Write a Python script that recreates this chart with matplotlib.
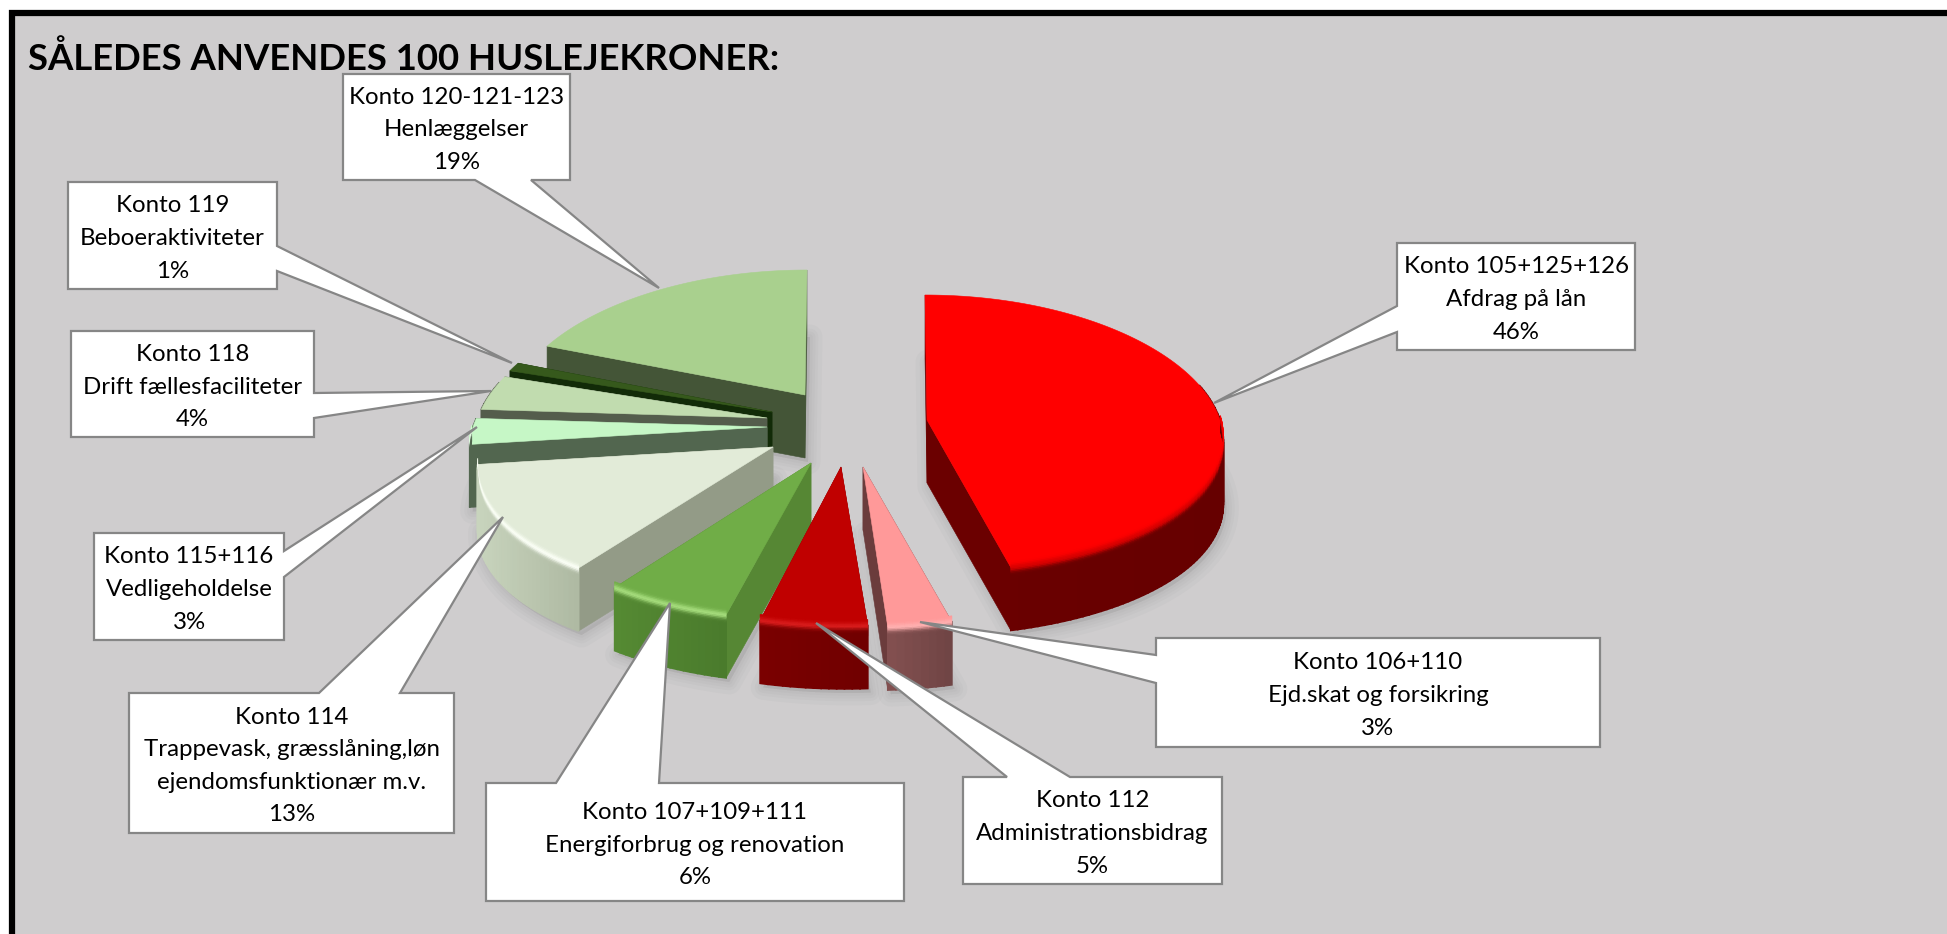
import numpy as np
import matplotlib
matplotlib.use("Agg")
import matplotlib.pyplot as plt
from matplotlib.patches import Polygon, Rectangle
from matplotlib.colors import to_rgb

# ===============================
# DATA
# ===============================
TITLE = "SÅLEDES ANVENDES 100 HUSLEJEKRONER:"

# clockwise from 12 o'clock
accounts = ["Konto 105+125+126", "Konto 106+110", "Konto 112", "Konto 107+109+111", "Konto 114",
            "Konto 115+116", "Konto 118", "Konto 119", "Konto 120-121-123"]
names = ["Afdrag på lån", "Ejd.skat og forsikring", "Administrationsbidrag", "Energiforbrug og renovation",
         "Trappevask, græsslåning,løn\nejendomsfunktionær m.v.", "Vedligeholdelse",
         "Drift fællesfaciliteter", "Beboeraktiviteter", "Henlæggelser"]
percent = [46, 3, 5, 6, 13, 3, 4, 1, 19]

# ===============================
# LAYOUT / STYLE
# ===============================
BG = "#cfcdce"
EDGE = "#868686"
A, B, KX, KY, DEPTH = 295, 137.5, 0.15, 0.10, 63

# exploded position of each slice tip, in pixels
apex = [(927, 420), (863, 467), (841, 467), (811, 463), (773, 447),
        (767, 427), (767, 418), (772, 412), (805, 395)]
# perspective correction per slice: vertical stretch, sideways lean of the outer edge
grow = [1.0, 1.05, 1.04, 1.03, 1.0, 1.0, 1.0, 1.0, 1.0]
lean = [-2, 3, 5, 1, 3, 1, 6, 6, 2]

top_col = ["#ff0000", "#ff9999", "#c00000", "#70ad47", "#e2ebd8",
           "#c6f7c6", "#c1dcaf", "#36591c", "#a9d08e"]
wall_col = ["#6b0000", "#6b3c3c", "#7a0000", "#568734", "#939b87",
            "#52664f", "#545d4c", "#122b08", "#445537"]
rim_l = ["#6b0000", "#835050", "#7a0000", "#558a33", "#c8d4bd",
         "#52664f", "#545d4c", "#122b08", "#445537"]
rim_r = ["#660000", "#6f4444", "#700000", "#4a7a2c", "#aeb9a2",
         "#52664f", "#545d4c", "#122b08", "#445537"]
shine = ["#d80000", "#ffb0b0", "#d81c1c", "#a5dc7c", "#fbfff6",
         "#e6ffe6", "#e0f5d0", "#36591c", "#a9d08e"]

# box x0, y0, x1, y1, pointer base a, pointer base b, side of the box, pointer tip
boxes = [
    (1397, 243, 1635, 350, 306, 332, "left", (1214, 403)),
    (1156, 638, 1600, 747, 655, 683, "left", (920, 622)),
    (963, 777, 1222, 884, 1007, 1070, "top", (816, 623)),
    (486, 783, 904, 901, 556, 659, "top", (670, 603)),
    (129, 693, 454, 833, 319, 400, "top", (503, 517)),
    (94, 533, 284, 640, 551, 577, "right", (477, 427)),
    (71, 331, 314, 437, 393, 418, "right", (491, 391)),
    (68, 182, 277, 289, 246, 271, "right", (512, 363)),
    (343, 74, 570, 180, 475, 531, "bottom", (659, 288)),
]

plt.rcParams["font.family"] = ["Lato", "DejaVu Sans"]


def project(i, theta):
    u, v = np.sin(theta), np.cos(theta)
    return np.column_stack([apex[i][0] + lean[i] + A * u / (1 + KX * v),
                            apex[i][1] - grow[i] * B * v / (1 + KY * v)])


def mix(c1, c2, t):
    c1, c2 = np.array(to_rgb(c1)), np.array(to_rgb(c2))
    return tuple(c1 + (c2 - c1) * t)


def callout(b):
    x0, y0, x1, y1, p, q, side, tip = b
    if side == "left":
        return [(x0, y0), (x1, y0), (x1, y1), (x0, y1), (x0, q), tip, (x0, p)]
    if side == "right":
        return [(x0, y0), (x1, y0), (x1, p), tip, (x1, q), (x1, y1), (x0, y1)]
    if side == "top":
        return [(x0, y0), (p, y0), tip, (q, y0), (x1, y0), (x1, y1), (x0, y1)]
    return [(x0, y0), (x1, y0), (x1, y1), (q, y1), tip, (p, y1), (x0, y1)]


fig = plt.figure(figsize=(19.47, 9.34), dpi=100, facecolor="white")
ax = fig.add_axes([0, 0, 1, 1])
ax.set_xlim(0, 1947)
ax.set_ylim(934, 0)
ax.axis("off")

# frame
ax.add_patch(Rectangle((12, 12.5), 1960, 950, facecolor=BG, edgecolor="black", lw=4.5, zorder=0))

# ===============================
# SLICES
# ===============================
edges = np.cumsum([0] + percent) / sum(percent) * 2 * np.pi
draw_order = [8, 7, 6, 5, 4, 3, 2, 1, 0]
z = 3

# soft shadows, under everything
for i in draw_order:
    th = np.linspace(edges[i], edges[i + 1], 60)
    arc = project(i, th)
    pts = np.vstack([[apex[i]], arc])
    low = pts + [3, DEPTH + 4]
    for lw in (18, 12, 8, 4):
        ax.add_patch(Polygon(low, closed=True, facecolor="#808080", edgecolor="#808080",
                             alpha=0.05, lw=lw, joinstyle="round", zorder=1))

for i in draw_order:
    n = max(int(percent[i] * 3), 8)
    th = np.linspace(edges[i], edges[i + 1], n)
    arc = project(i, th)
    tip = np.array(apex[i], dtype=float)
    down = np.array([0, DEPTH])

    # the two cut faces
    for corner in (arc[0], arc[-1]):
        quad = [tip, corner, corner + down, tip + down]
        ax.add_patch(Polygon(quad, closed=True, facecolor=wall_col[i], edgecolor=wall_col[i], lw=0.4, zorder=z))
    z += 1

    # outer rim, only the part facing the viewer
    xmin, xmax = arc[:, 0].min(), arc[:, 0].max()
    for j in range(n - 1):
        if np.cos(th[j]) > 0.25 and np.cos(th[j + 1]) > 0.25:
            continue
        t = ((arc[j, 0] + arc[j + 1, 0]) / 2 - xmin) / max(xmax - xmin, 1)
        quad = [arc[j], arc[j + 1], arc[j + 1] + down, arc[j] + down]
        c = mix(rim_l[i], rim_r[i], t)
        ax.add_patch(Polygon(quad, closed=True, facecolor=c, edgecolor=c, lw=1.2, zorder=z))
    z += 1

    # top face
    ax.add_patch(Polygon(np.vstack([[tip], arc]), closed=True, facecolor=top_col[i],
                         edgecolor=top_col[i], lw=0.4, zorder=z))
    z += 1

    # bevel along the front edge
    steps = np.arange(-6, 10.5, 1.5)
    for j in range(n - 1):
        if np.cos((th[j] + th[j + 1]) / 2) > -0.02:
            continue
        t = ((arc[j, 0] + arc[j + 1, 0]) / 2 - xmin) / max(xmax - xmin, 1)
        base = mix(rim_l[i], rim_r[i], t)
        for b0 in steps:
            w = np.exp(-(b0 / 3.5) ** 2)
            c = mix(top_col[i], shine[i], w) if b0 < 0 else mix(base, shine[i], w)
            quad = [arc[j] + [0, b0], arc[j + 1] + [0, b0], arc[j + 1] + [0, b0 + 1.5], arc[j] + [0, b0 + 1.5]]
            ax.add_patch(Polygon(quad, closed=True, facecolor=c, edgecolor=c, lw=0.5, zorder=z))
    z += 1

# ===============================
# CALLOUTS
# ===============================
for i, b in enumerate(boxes):
    ax.add_patch(Polygon(callout(b), closed=True, facecolor="white", edgecolor=EDGE, lw=1.6,
                         joinstyle="miter", zorder=100))
    label = f"{accounts[i]}\n{names[i]}\n{percent[i]}%"
    ax.text((b[0] + b[2]) / 2, (b[1] + b[3]) / 2 + 3, label, ha="center", va="center",
            fontsize=17.3, linespacing=1.68, color="black", zorder=101)

ax.text(28, 70, TITLE, fontsize=26.3, fontweight="bold", color="black", ha="left", va="baseline", zorder=102)

plt.savefig("out.png", dpi=100)
